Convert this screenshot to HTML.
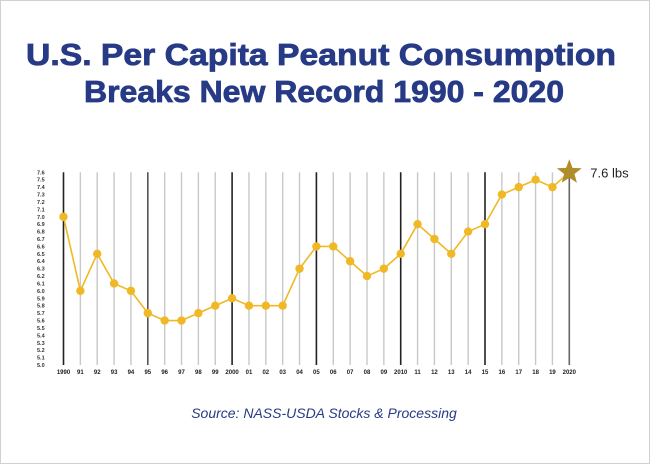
<!DOCTYPE html>
<html><head><meta charset="utf-8"><style>
html,body{margin:0;padding:0;background:#fff;}
svg{display:block;}
text{font-family:"Liberation Sans",sans-serif;}
</style></head><body>
<svg id="chart" width="650" height="464" viewBox="0 0 650 464" xmlns="http://www.w3.org/2000/svg">
<rect x="0.5" y="0.5" width="649" height="463" fill="#fff" stroke="#d0d0d0"/>
<text x="321" y="65" text-anchor="middle" font-size="31" font-weight="bold" fill="#273a85" stroke="#273a85" stroke-width="0.8" textLength="590" lengthAdjust="spacingAndGlyphs">U.S. Per Capita Peanut Consumption</text>
<text x="324" y="102" text-anchor="middle" font-size="31" font-weight="bold" fill="#273a85" stroke="#273a85" stroke-width="0.8" textLength="480" lengthAdjust="spacingAndGlyphs">Breaks New Record 1990 - 2020</text>
<g id="grid"></g>
<g id="yaxis"></g>
<g id="xaxis"></g>
<g id="series"></g>
<text x="324" y="418" text-anchor="middle" font-size="14" font-style="italic" fill="#273a85">Source: NASS-USDA Stocks &amp; Processing</text>
</svg>
<script>
const years = [1990,1991,1992,1993,1994,1995,1996,1997,1998,1999,2000,2001,2002,2003,2004,2005,2006,2007,2008,2009,2010,2011,2012,2013,2014,2015,2016,2017,2018,2019,2020];
const yearLabels = ["1990","91","92","93","94","95","96","97","98","99","2000","01","02","03","04","05","06","07","08","09","2010","11","12","13","14","15","16","17","18","19","2020"];
const values = [7.0,6.0,6.5,6.1,6.0,5.7,5.6,5.6,5.7,5.8,5.9,5.8,5.8,5.8,6.3,6.6,6.6,6.4,6.2,6.3,6.5,6.9,6.7,6.5,6.8,6.9,7.3,7.4,7.5,7.4,7.6];
const yMin = 5.0, yMax = 7.6;
const callout = "7.6 lbs";

const NS="http://www.w3.org/2000/svg";
const X0=63.5, X1=569.3, Y0=365, Y1=172.3;
const xs = y => X0 + (y-years[0])/(years[years.length-1]-years[0])*(X1-X0);
const ys = v => Y0 - (v-yMin)/(yMax-yMin)*(Y0-Y1);
function mk(tag, attrs, parent){const e=document.createElementNS(NS,tag);for(const k in attrs)e.setAttribute(k,attrs[k]);parent.appendChild(e);return e;}
const grid=document.getElementById('grid'), yaxis=document.getElementById('yaxis'), xaxis=document.getElementById('xaxis'), series=document.getElementById('series');

years.forEach((yr,i)=>{
  const major = yr%5===0;
  let col = major ? "#222" : "#c8c8c8";
  if(yr===1995) col="#555";
  if(yr===2020) col="#666";
  const l=mk('line',{x1:xs(yr),x2:xs(yr),y1:Y1,y2:Y0,stroke:col,'stroke-width':major?1.6:1.4},grid);
  
  
  const t=mk('text',{x:xs(yr),y:374,'text-anchor':'middle','font-size':6,'font-weight':'bold',fill:'#222'},xaxis);
  t.textContent=yearLabels[i];
  
  
});
for(let k=0;k<=Math.round((yMax-yMin)*10);k++){
  const v=yMin+k/10;
  const t=mk('text',{x:37,y:ys(v)+2,'font-size':5.5,'font-weight':'bold',fill:'#333'},yaxis);
  t.textContent=v.toFixed(1);
  
  
}
const pts=values.map((v,i)=>xs(years[i])+','+ys(v)).join(' ');
const pl=mk('polyline',{points:pts,fill:'none',stroke:'#f0b825','stroke-width':1.6},series);


values.forEach((v,i)=>{
  if(i===values.length-1){
    const cx=xs(years[i]), cy=ys(v), R=13, r=5.5;
    let p=[];
    for(let j=0;j<10;j++){const a=-Math.PI/2+j*Math.PI/5;const rr=j%2?r:R;p.push((cx+rr*Math.cos(a)).toFixed(1)+','+(cy+rr*Math.sin(a)).toFixed(1));}
    const s=mk('polygon',{points:p.join(' '),fill:'#b08d2a'},series);
    
    
    const t=mk('text',{x:cx+21,y:cy+5,'font-size':13,fill:'#222'},series);
    t.textContent=callout;
    
    
  } else {
    const c=mk('circle',{cx:xs(years[i]),cy:ys(v),r:4.2,fill:'#f0b825'},series);
    
    
  }
});
</script>
</body></html>
